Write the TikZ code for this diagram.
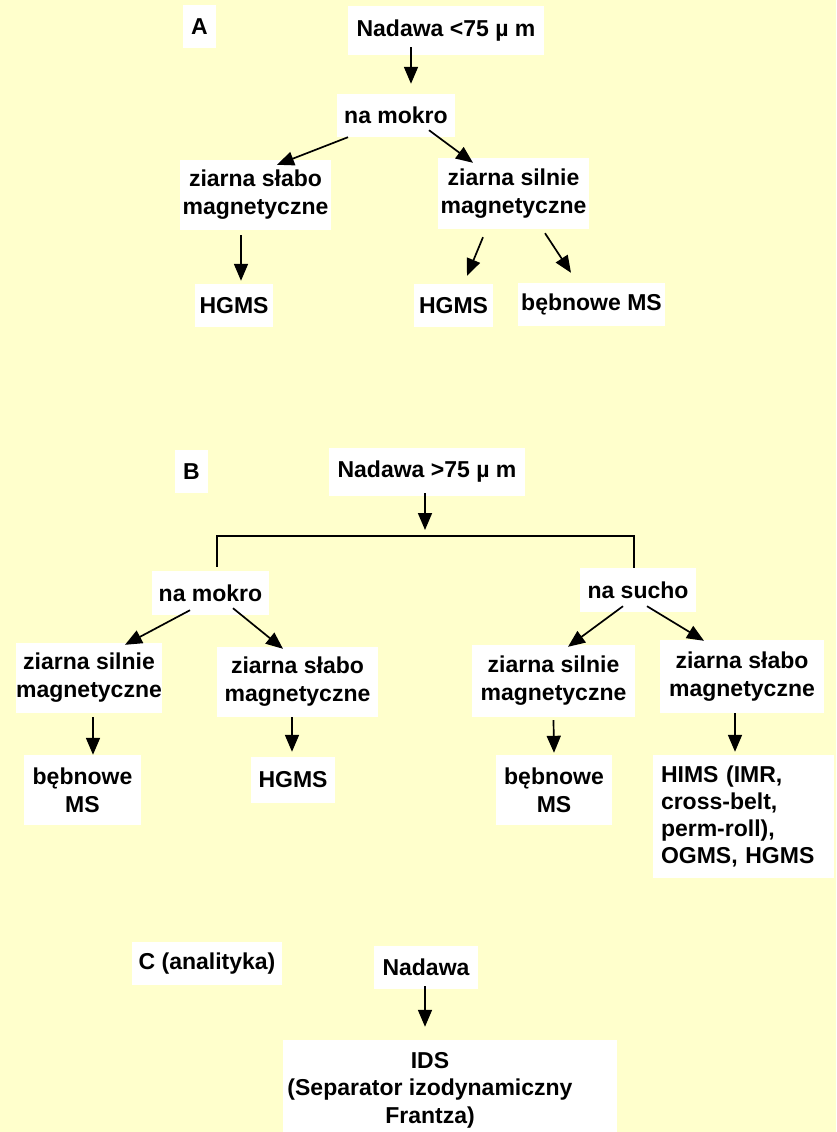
\documentclass[tikz,border=0pt]{standalone}
\usepackage{fontspec}
\setmainfont{Liberation Sans}
\usetikzlibrary{arrows.meta}
\definecolor{bgyellow}{RGB}{255,255,204}
\begin{document}
\begin{tikzpicture}[x=1pt,y=-1pt,
  box/.style={fill=white, inner sep=0pt, align=center,
    font=\fontsize{23}{28}\selectfont\bfseries},
  arr/.style={line width=1.7pt, -{Triangle[length=17pt,width=14pt]}},
  conn/.style={line width=1.7pt}]
\fill[bgyellow] (0,0) rectangle (836,1132);
\useasboundingbox (0,0) rectangle (836,1132);
% ---------- A ----------
\node[box, minimum width=33pt, minimum height=43pt] (A) at (199.5,26.5) {A};
\node[box, minimum width=196pt, minimum height=49pt] (nA) at (446,30.5) {Nadawa <75 µ m};
\node[box, minimum width=118pt, minimum height=43pt] (mokA) at (396,115.5) {na mokro};
\node[box, minimum width=151pt, minimum height=70pt] (slaboA) at (255.5,195) {ziarna słabo\\magnetyczne};
\node[box, minimum width=151pt, minimum height=71pt] (silnieA) at (513.5,193.5) {ziarna silnie\\magnetyczne};
\node[box, minimum width=78pt, minimum height=43pt] (hgmsA1) at (234,305.5) {HGMS};
\node[box, minimum width=79pt, minimum height=43pt] (hgmsA2) at (453.5,305.5) {HGMS};
\node[box, minimum width=147pt, minimum height=43pt] (bebA) at (591.5,304.5) {bębnowe MS};
\draw[arr] ([xshift=-35pt,yshift=8pt]nA.south) -- ([xshift=15pt,yshift=10pt]mokA.north);
\draw[arr] ([xshift=-48pt]mokA.south) -- ([xshift=21.5pt,yshift=-5pt]slaboA.north);
\draw[arr] ([xshift=33pt,yshift=7pt]mokA.south) -- ([xshift=-40.5pt,yshift=-5pt]silnieA.north);
\draw[arr] ([xshift=-14.5pt,yshift=-5pt]slaboA.south) -- ([xshift=7pt,yshift=3pt]hgmsA1.north);
\draw[arr] ([xshift=-30.5pt,yshift=-8pt]silnieA.south) -- ([xshift=13.5pt,yshift=8pt]hgmsA2.north);
\draw[arr] ([xshift=31.5pt,yshift=-4pt]silnieA.south) -- ([xshift=-20.5pt,yshift=10pt]bebA.north);
% ---------- B ----------
\node[box, minimum width=33pt, minimum height=43pt] (B) at (191.5,471.5) {B};
\node[box, minimum width=196pt, minimum height=48pt] (nB) at (427,472) {Nadawa >75 µ m};
\node[box, minimum width=117pt, minimum height=44pt] (mokB) at (210.5,593) {na mokro};
\node[box, minimum width=116pt, minimum height=44pt] (suchoB) at (638,590) {na sucho};
\node[box, minimum width=146pt, minimum height=70pt] (silB1) at (89,678) {ziarna silnie\\magnetyczne};
\node[box, minimum width=161pt, minimum height=70pt] (slabB1) at (297.5,682) {ziarna słabo\\magnetyczne};
\node[box, minimum width=163pt, minimum height=72pt] (silB2) at (553.5,681) {ziarna silnie\\magnetyczne};
\node[box, minimum width=164pt, minimum height=73pt] (slabB2) at (742,676.5) {ziarna słabo\\magnetyczne};
\node[box, minimum width=117pt, minimum height=70pt] (bebB1) at (82.5,790) {bębnowe\\MS};
\node[box, minimum width=84pt, minimum height=46pt] (hgmsB) at (293,780) {HGMS};
\node[box, minimum width=116pt, minimum height=70pt] (bebB2) at (554,790) {bębnowe\\MS};
\node[box, minimum width=181pt, minimum height=123pt, align=left, text width=165pt, inner xsep=8pt, font=\fontsize{23}{27}\selectfont\bfseries]
  (himsB) at (743.5,816.5) {HIMS (IMR,\\cross-belt,\\perm-roll),\\OGMS, HGMS};
\coordinate (bj) at (425,536);
\draw[arr] ([xshift=-2pt,yshift=3pt]nB.south) -- ([yshift=6pt]bj);
\draw[conn] ([xshift=6.5pt,yshift=4pt]mokB.north) |- (bj) -| ([xshift=-4pt]suchoB.north);
\draw[arr] ([xshift=-20.5pt,yshift=5pt]mokB.south) -- ([xshift=36pt,yshift=-2pt]silB1.north);
\draw[arr] ([xshift=22.5pt,yshift=7pt]mokB.south) -- ([xshift=-14.5pt,yshift=-2pt]slabB1.north);
\draw[arr] ([xshift=-15pt,yshift=6pt]suchoB.south) -- ([xshift=14.5pt,yshift=-2pt]silB2.north);
\draw[arr] ([xshift=9pt,yshift=6pt]suchoB.south) -- ([xshift=-38pt,yshift=-1pt]slabB2.north);
\draw[arr] ([xshift=4pt,yshift=-4pt]silB1.south) -- ([xshift=10.5pt]bebB1.north);
\draw[arr] ([xshift=-5.5pt]slabB1.south) -- ([xshift=-1pt,yshift=5pt]hgmsB.north);
\draw[arr] ([yshift=-3pt]silB2.south) -- ([yshift=2pt]bebB2.north);
\draw[arr] ([xshift=-7pt]slabB2.south) -- ([xshift=-8.5pt,yshift=3pt]himsB.north);
% ---------- C ----------
\node[box, minimum width=150pt, minimum height=43pt] (C) at (207,963.5) {C (analityka)};
\node[box, minimum width=104pt, minimum height=43pt] (nC) at (426,967.5) {Nadawa};
\node[box, minimum width=334pt, minimum height=92pt] (ids) at (450,1086) {};
\node[align=center, inner sep=0pt, font=\fontsize{23}{27.5}\selectfont\bfseries] (idstext) at (430,1090)
  {IDS\\(Separator izodynamiczny\\Frantza)};
\draw[arr] ([xshift=-1pt,yshift=3pt]nC.south) -- ([xshift=-25pt,yshift=13pt]ids.north);
\end{tikzpicture}
\end{document}
